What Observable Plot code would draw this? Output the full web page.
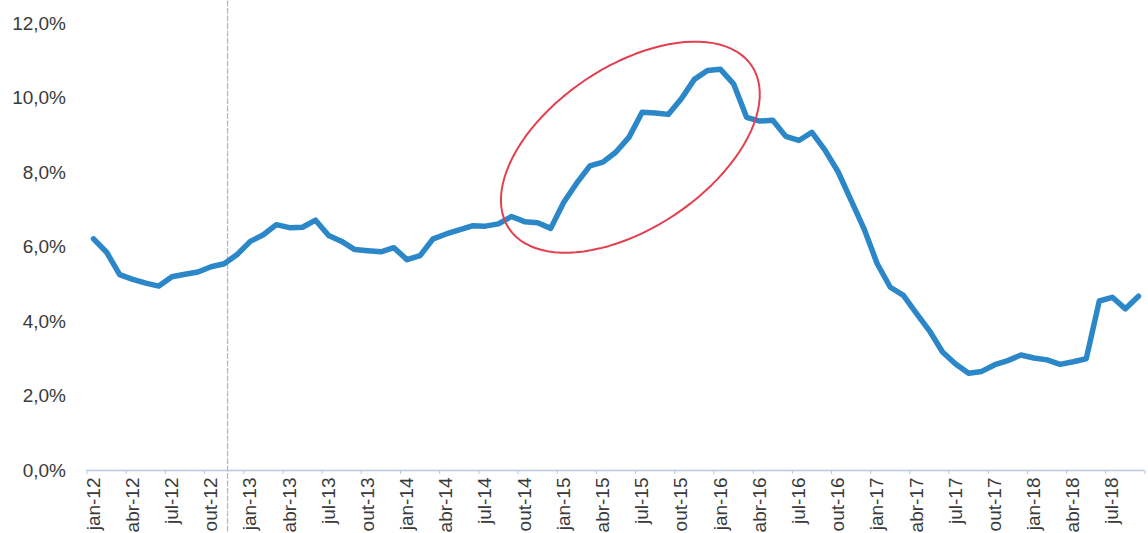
<!DOCTYPE html>
<html>
<head>
<meta charset="utf-8">
<script src="https://cdn.jsdelivr.net/npm/d3@7"></script>
<script src="https://cdn.jsdelivr.net/npm/@observablehq/plot@0.6"></script>
<style>
  html, body { margin: 0; padding: 0; background: #ffffff; }
  #chart svg { display: block; }
</style>
</head>
<body>
<div id="chart"></div>
<script>
// Monthly rate (%), from jan-12 to set-18 (index 0 = jan-12)
const values = [
  6.22, 5.86, 5.26, 5.13, 5.03, 4.95, 5.20, 5.27, 5.33, 5.47, 5.55, 5.80,
  6.15, 6.33, 6.60, 6.52, 6.53, 6.72, 6.31, 6.15, 5.93, 5.90, 5.87, 5.98,
  5.66, 5.77, 6.22, 6.35, 6.46, 6.57, 6.56, 6.62, 6.82, 6.68, 6.65, 6.50,
  7.20, 7.72, 8.18, 8.28, 8.55, 8.95, 9.62, 9.60, 9.56, 9.98, 10.50, 10.74,
  10.77, 10.38, 9.48, 9.38, 9.40, 8.97, 8.86, 9.08, 8.60, 8.02, 7.25, 6.48,
  5.55, 4.92, 4.70, 4.22, 3.75, 3.18, 2.86, 2.61, 2.66, 2.84, 2.95, 3.10,
  3.02, 2.97, 2.85, 2.92, 3.00, 4.55, 4.65, 4.34, 4.68
];

// Category labels shown every third month
const tickLabels = [
  "jan-12", "abr-12", "jul-12", "out-12",
  "jan-13", "abr-13", "jul-13", "out-13",
  "jan-14", "abr-14", "jul-14", "out-14",
  "jan-15", "abr-15", "jul-15", "out-15",
  "jan-16", "abr-16", "jul-16", "out-16",
  "jan-17", "abr-17", "jul-17", "out-17",
  "jan-18", "abr-18", "jul-18"
];
const tickMonths = tickLabels.map((_, i) => i * 3);

// Category boundaries carrying the small tick marks
const boundaryMonths = d3.range(-0.5, values.length, 3);

// Y axis ticks (%)
const yTicks = [0, 2, 4, 6, 8, 10, 12];

// Highlight ellipse around the 2015 rise (month index, %)
const ellipseCenter = [41.1, 8.68];
const ellipseAxisU = [9.3, 2.18];
const ellipseAxisV = [3.42, -1.81];

// Reference marker between nov-12 and dez-12
const markerMonth = [10.26];

const series = values.map((v, i) => ({month: i, value: v}));
const ellipse = d3.range(0, 97).map(k => {
  const t = (k / 96) * 2 * Math.PI;
  return {
    month: ellipseCenter[0] + ellipseAxisU[0] * Math.cos(t) + ellipseAxisV[0] * Math.sin(t),
    value: ellipseCenter[1] + ellipseAxisU[1] * Math.cos(t) + ellipseAxisV[1] * Math.sin(t)
  };
});

const pct = d => d.toFixed(1).replace(".", ",") + "%";

const chart = Plot.plot({
  width: 1148,
  height: 533,
  marginLeft: 86.5,
  marginRight: 3.5,
  marginTop: 23,
  marginBottom: 63,
  x: {domain: [-0.5, values.length - 0.5], label: null},
  y: {domain: [0, 12], label: null},
  style: {
    fontFamily: "'Liberation Sans', Arial, sans-serif",
    fontSize: "19px",
    color: "#3a3a3a",
    background: "#ffffff"
  },
  marks: [
    Plot.ruleX(markerMonth, {stroke: "#86c8ea", strokeWidth: 1.2, strokeDasharray: "6,1.5", insetTop: -30, insetBottom: -70}),
    Plot.ruleY([0], {stroke: "#bcc6dc", strokeWidth: 1.5}),
    Plot.axisX(boundaryMonths, {tickSize: 4, tickFormat: () => "", stroke: "#bcc6dc", label: null}),
    Plot.axisX(tickMonths, {
      tickSize: 0,
      tickPadding: 7,
      tickRotate: -90,
      tickFormat: m => tickLabels[m / 3],
      fontSize: 19,
      fill: "#3a3a3a",
      label: null
    }),
    Plot.axisY(yTicks, {tickSize: 0, tickPadding: 21, tickFormat: pct, fontSize: 19, fill: "#3a3a3a", label: null}),
    Plot.line(series, {x: "month", y: "value", stroke: "#2b87c8", strokeWidth: 5.5, strokeLinejoin: "round", strokeLinecap: "round"}),
    Plot.line(ellipse, {x: "month", y: "value", stroke: "#e2404f", strokeWidth: 2, curve: "linear"})
  ]
});

document.getElementById("chart").append(chart);
</script>
</body>
</html>
